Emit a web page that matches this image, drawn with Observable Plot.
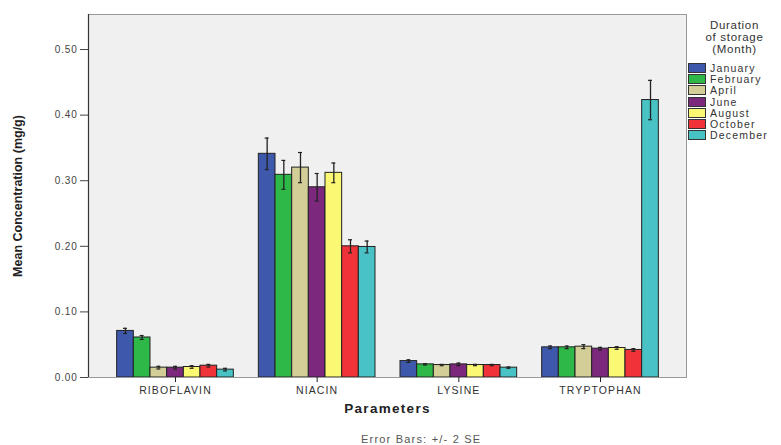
<!DOCTYPE html>
<html>
<head>
<meta charset="utf-8">
<script src="https://cdn.jsdelivr.net/npm/d3@7"></script>
<script src="https://cdn.jsdelivr.net/npm/@observablehq/plot@0.6"></script>
<style>
  body { margin: 0; background: #fff; }
  #wrap { position: relative; width: 781px; height: 445px; font-family: "Liberation Sans", Arial, sans-serif; }
  #chart svg { display: block; }
  g[aria-label="x-axis tick label"] text { letter-spacing: 1.1px; }
  g[aria-label="y-axis tick label"] text { letter-spacing: 0.8px; }
  g.xtitle text { letter-spacing: 1.3px; }
  #legend { position: absolute; left: 688px; top: 19px; width: 93px; color: #333; }
  #legend .title { text-align: center; font-size: 11.5px; line-height: 12px; letter-spacing: 0.7px; margin-bottom: 7px; }
  #legend .item { display: flex; align-items: center; height: 11.3px; font-size: 10.5px; letter-spacing: 1.2px; }
  #legend .sw { width: 16px; height: 8px; border: 1px solid #333; margin-right: 4px; box-sizing: content-box; flex: none; }
  #caption { position: absolute; left: 361px; top: 433px; font-size: 11px; letter-spacing: 1.2px; color: #555; }
</style>
</head>
<body>
<div id="wrap">
  <div id="chart"></div>
  <div id="legend"></div>
  <div id="caption">Error Bars: +/- 2 SE</div>
</div>
<script>
// Parameters on the x axis and storage months within each group
const parameters = ["RIBOFLAVIN", "NIACIN", "LYSINE", "TRYPTOPHAN"];
const months = ["January", "February", "April", "June", "August", "October", "December"];
const monthColors = ["#3E58AC", "#2EB848", "#D3CE97", "#7C287D", "#FBF873", "#EF3338", "#48C2C5"];

// Mean concentration (mg/g) per month, and the half-length of the error bar (2 SE)
const riboflavin    = [0.071, 0.061, 0.015, 0.015, 0.016, 0.018, 0.012];
const riboflavinErr = [0.004, 0.003, 0.002, 0.002, 0.002, 0.002, 0.002];
const niacin        = [0.341, 0.309, 0.320, 0.290, 0.312, 0.200, 0.199];
const niacinErr     = [0.024, 0.022, 0.023, 0.021, 0.015, 0.010, 0.009];
const lysine        = [0.025, 0.020, 0.019, 0.020, 0.019, 0.019, 0.015];
const lysineErr     = [0.002, 0.001, 0.001, 0.002, 0.001, 0.001, 0.001];
const tryptophan    = [0.046, 0.046, 0.047, 0.044, 0.045, 0.042, 0.423];
const tryptophanErr = [0.002, 0.002, 0.003, 0.002, 0.002, 0.002, 0.030];

const yTicks = [0, 0.1, 0.2, 0.3, 0.4, 0.5];
const yLabel = "Mean Concentration (mg/g)";
const xLabel = "Parameters";

const means = [riboflavin, niacin, lysine, tryptophan];
const errs = [riboflavinErr, niacinErr, lysineErr, tryptophanErr];

// Each group spans groupWidth units around its integer position; bars sit side by side
const groupWidth = 0.8235;
const bw = groupWidth / months.length;
const rows = [];
parameters.forEach((p, pi) => {
  months.forEach((m, mi) => {
    const x1 = pi + (mi - months.length / 2) * bw;
    rows.push({
      param: p, month: m,
      x1, x2: x1 + bw, xc: x1 + bw / 2,
      value: means[pi][mi], err: errs[pi][mi]
    });
  });
});

const xDomain = [-0.614, 3.607];
const cap = 0.014;
const dark = "#222";

const chart = Plot.plot({
  width: 781,
  height: 425,
  marginLeft: 88,
  marginRight: 95,
  marginTop: 14,
  marginBottom: 48,
  style: { background: "white", fontFamily: "'Liberation Sans', Arial, sans-serif", fontSize: "10px", color: "#333" },
  x: { type: "linear", domain: xDomain, axis: null },
  y: { domain: [0, 0.5534], axis: null },
  color: { domain: months, range: monthColors },
  marks: [
    Plot.frame({ fill: "#f0f0f0", stroke: null }),
    Plot.rectY(rows, { x1: "x1", x2: "x2", y1: 0, y2: "value", fill: "month", stroke: dark, strokeWidth: 1 }),
    Plot.ruleX(rows, { x: "xc", y1: d => d.value - d.err, y2: d => d.value + d.err, stroke: dark, strokeWidth: 1.3 }),
    Plot.ruleY(rows, { y: d => d.value + d.err, x1: d => d.xc - cap, x2: d => d.xc + cap, stroke: dark, strokeWidth: 1.2 }),
    Plot.ruleY(rows, { y: d => d.value - d.err, x1: d => d.xc - cap, x2: d => d.xc + cap, stroke: dark, strokeWidth: 1.2 }),
    Plot.frame({ stroke: "#999", strokeWidth: 1 }),
    Plot.ruleX([xDomain[0]], { stroke: "#333", strokeWidth: 1.2 }),
    Plot.axisY(yTicks, { tickFormat: ".2f", tickSize: 8, tickPadding: 3, fontSize: 10, label: null, stroke: "#444", color: "#444" }),
    Plot.axisX([0, 1, 2, 3], { tickFormat: i => parameters[i], tickSize: 5, tickPadding: 4, fontSize: 10.5, label: null, stroke: "#222" }),
    Plot.text([yLabel], { frameAnchor: "left", textAnchor: "middle", rotate: -90, dx: -71, fontWeight: "bold", fontSize: 12.5, fontFamily: "'Liberation Sans Narrow', 'Arial Narrow', sans-serif", fill: "#222" }),
    Plot.text([xLabel], { frameAnchor: "bottom", dy: 35, fontWeight: "bold", fontSize: 13.5, fill: "#222", className: "xtitle" })
  ]
});
document.getElementById("chart").appendChild(chart);

// Legend: month swatches under a centred title
const legend = d3.select("#legend");
legend.append("div").attr("class", "title").html("Duration<br>of storage<br>(Month)");
months.forEach((m, i) => {
  const item = legend.append("div").attr("class", "item");
  item.append("div").attr("class", "sw").style("background", monthColors[i]);
  item.append("span").text(m);
});
</script>
</body>
</html>
